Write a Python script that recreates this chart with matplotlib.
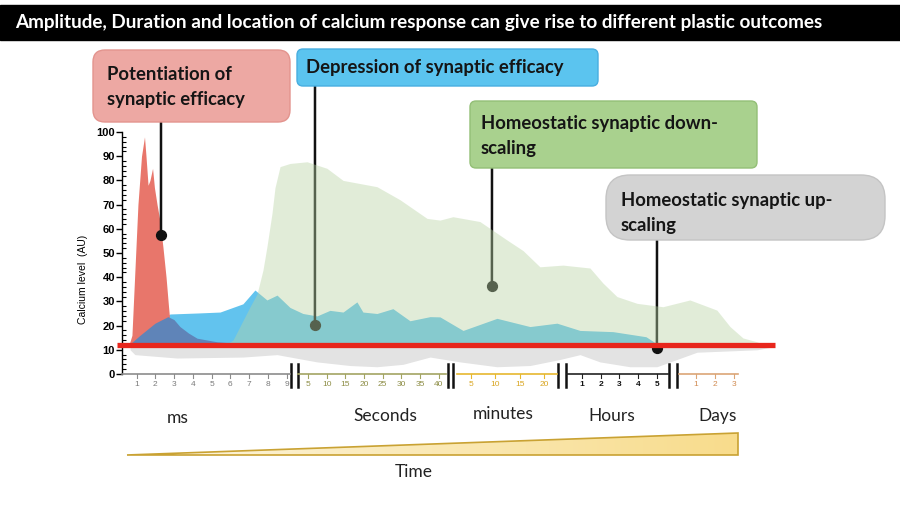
import numpy as np
import matplotlib.pyplot as plt
from matplotlib.patches import FancyBboxPatch, Rectangle, Polygon
from matplotlib.colors import LinearSegmentedColormap
from matplotlib.ticker import MultipleLocator

plt.rcParams['font.family'] = ['Lato', 'DejaVu Sans']

# ---- data (x in time-slot units along the broken axis, y = calcium level AU) ----
pot_x = [0.37, 0.53, 0.69, 0.85, 1.04, 1.20, 1.28, 1.39, 1.49, 1.63, 1.73, 1.87,
         2.03, 2.19, 2.35, 2.48, 2.61, 2.77, 2.99]
pot_y = [12, 16, 43, 70, 90, 98, 90, 78, 80, 85, 77, 70, 63, 52, 40, 28, 17, 13, 12]

fast_x = [0.37, 0.96, 1.76, 2.45, 2.77, 3.09, 3.55, 4.00, 5.07, 6.45, 7.36]
fast_y = [12, 16, 21, 23.7, 22.5, 19.6, 16.9, 14.8, 13.3, 12.5, 12]

dep_x = [0.43, 1.12, 2.03, 2.56, 4.00, 5.23, 6.45, 7.09, 7.73, 8.27, 8.96, 9.65,
         10.40, 11.09, 11.79, 12.53, 12.85, 13.60, 14.45, 15.36, 16.43, 16.96,
         18.19, 20.00, 21.76, 23.20, 24.43, 26.19, 27.95, 28.48, 28.75]
dep_y = [12, 15.4, 22, 24.8, 25.2, 25.6, 29, 34.7, 30.6, 32.6, 27.5, 25,
         24, 26.3, 25.6, 29.8, 25.6, 25, 27, 22, 23.7, 23.6,
         18, 23, 19.6, 21, 18, 17.5, 15.4, 12.7, 12]

down_x = [5.49, 5.92, 6.83, 7.20, 7.52, 7.73, 8.00, 8.16, 8.43, 8.96, 9.87, 10.93,
          11.79, 13.60, 14.83, 16.27, 16.96, 17.65, 19.09, 20.53, 21.39, 22.29,
          23.52, 24.96, 25.65, 26.40, 27.47, 28.85, 30.29, 31.73, 32.43, 33.12,
          33.87, 34.29]
down_y = [12, 14, 27.8, 33, 43, 52.6, 66.4, 77, 85.7, 87, 87.7, 85,
          80, 77.4, 72, 64.3, 63.6, 65, 63, 55.4, 51, 44.3,
          45, 43.8, 37.6, 32, 29.2, 27.8, 30.6, 26.4, 19.6, 14.9,
          13.3, 12]

band_x = [0.43, 0.69, 2.93, 6.45, 8.27, 10.40, 12.16, 13.60, 14.99, 16.43, 18.03,
          20.00, 21.76, 23.36, 24.43, 25.49, 27.09, 28.53, 30.67, 33.87, 34.56]
band_low = [10, 8, 6.6, 7, 8, 5, 3.5, 3, 4, 7, 5,
            3, 3.5, 6, 8, 5, 3, 3, 9, 10, 11]

baseline = 12

ms_ticks = [1, 2, 3, 4, 5, 6, 7, 8, 9]
sec_ticks = [5, 10, 15, 20, 25, 30, 35, 40]
min_ticks = [5, 10, 15, 20]
hour_ticks = [1, 2, 3, 4, 5]
day_ticks = [1, 2, 3]
unit_names = ['ms', 'Seconds', 'minutes', 'Hours', 'Days']

# callout points on the curves (x slot, calcium level)
callout_pts = [(2.08, 57.4), (10.29, 20.2), (19.73, 36.4), (28.53, 10.7)]

# ---- figure ----
fig = plt.figure(figsize=(9, 5.07), dpi=100)
ax = fig.add_axes([122 / 900, 133 / 507, 653 / 900, 242 / 507])
ax.set_xlim(0, 34.83)
ax.set_ylim(0, 100)

ax.fill_between(band_x, band_low, baseline + 0.5, color='#e3e3e3', lw=0, zorder=1)
ax.fill_between(dep_x, baseline, dep_y, color='#62c3ee', lw=0, zorder=2)
ax.fill_between(pot_x, baseline, pot_y, color='#e8766b', lw=0, zorder=3)
ax.fill_between(fast_x, baseline, fast_y, color='#5f84b8', lw=0, zorder=4)
ax.fill_between(down_x, baseline, down_y, color='#b8d4a4', alpha=0.42, lw=0, zorder=6)
ax.plot([-0.27, 34.83], [baseline, baseline], color='#e8261c', lw=3.8,
        solid_capstyle='butt', clip_on=False, zorder=7)

# y axis
for s in ['top', 'right', 'bottom']:
    ax.spines[s].set_visible(False)
ax.spines['left'].set_linewidth(1.0)
ax.set_yticks(range(0, 101, 10))
ax.yaxis.set_minor_locator(MultipleLocator(2))
ax.tick_params(axis='y', which='major', direction='out', length=4, width=1,
               labelsize=8, pad=1)
ax.tick_params(axis='y', which='minor', direction='in', length=3, width=0.8)
for lab in ax.get_yticklabels():
    lab.set_fontweight('bold')
    lab.set_family(['Liberation Sans', 'DejaVu Sans'])
ax.set_xticks([])
ax.set_ylabel('Calcium level  (AU)', fontsize=7.5, family=['Liberation Sans'])
ax.yaxis.set_label_coords(-0.052, 0.39)

# broken time axis: (tick labels, line start, line end, first tick, step, line colour, label colour)
segments = [
    (ms_ticks, 0.0, 8.96, 0.78, 1.0, '#8c8c8c', '#7a7a7a'),
    (sec_ticks, 9.39, 17.28, 9.92, 0.997, '#a3a463', '#8d8d45'),
    (min_ticks, 17.87, 23.2, 18.61, 1.30, '#e6b830', '#d9a520'),
    (hour_ticks, 23.73, 29.12, 24.53, 1.0, '#222222', '#111111'),
    (day_ticks, 29.71, 32.83, 30.61, 1.01, '#dba577', '#d08a50'),
]
for ticks, x0, x1, first, step, lc, tc in segments:
    ax.plot([x0, x1], [0, 0], color=lc, lw=1.2, clip_on=False, zorder=5)
    for i, t in enumerate(ticks):
        xt = first + i * step
        ax.plot([xt, xt], [0, -1.6], color=lc, lw=0.8, clip_on=False)
        ax.text(xt, -4.4, str(t), color=tc, fontsize=6, ha='center', va='center',
                family=['Liberation Sans'],
                fontweight='bold' if ticks is hour_ticks else 'normal')
for b in [9.01, 9.37, 17.37, 17.65, 23.25, 23.66, 29.17, 29.58]:
    ax.plot([b, b], [4.1, -5.4], color='#111111', lw=1.8, clip_on=False)

# overlay in pixel coordinates for title, callout boxes and time wedge
ov = fig.add_axes([0, 0, 1, 1], zorder=5)
ov.patch.set_alpha(0)
ov.axis('off')

ov.add_patch(Rectangle((0, 5), 900, 35, color='black'))
ov.text(15, 22.5, 'Amplitude, Duration and location of calcium response can give rise to '
        'different plastic outcomes', color='white', fontsize=13.6, fontweight='bold',
        va='center', ha='left')

boxes = [
    ((93, 50, 197, 72), 12, '#eda8a3', '#e3948e', 'Potentiation of\nsynaptic efficacy', (107, 87)),
    ((297, 49, 301, 37), 6, '#5bc4ef', '#48aee0', 'Depression of synaptic efficacy', (306, 68)),
    ((470, 101, 287, 67), 6, '#a9d18e', '#93bf76', 'Homeostatic synaptic down-\nscaling', (481, 136)),
    ((606, 175, 279, 65), 24, '#d3d3d3', '#c4c4c4', 'Homeostatic synaptic up-\nscaling', (621, 213)),
]
anchors = [(161, 122), (315, 86), (492, 168), (657, 240)]
for (x, y, w, h), r, fc, ec, txt, (tx, ty) in boxes:
    ov.add_patch(FancyBboxPatch((x + r, y + r), w - 2 * r, h - 2 * r,
                                boxstyle='round,pad=%d' % r, fc=fc, ec=ec, lw=1))
    ov.text(tx, ty, txt, fontsize=13.3, fontweight='bold', color='#151515',
            va='center', ha='left', linespacing=1.6)

for (px, py), (cx, cy) in zip(anchors, callout_pts):
    ann = ax.annotate('', xy=(cx, cy), xycoords='data', xytext=(px, py),
                      textcoords=ov.transData, annotation_clip=False,
                      arrowprops=dict(arrowstyle='-', color='#111111', lw=1.8,
                                      shrinkA=0, shrinkB=0), zorder=5)
    ann.arrow_patch.set_clip_on(False)
    ax.scatter([cx], [cy], s=50, color='#111111', zorder=5, clip_on=False)

label_pos = [(178, 418), (385, 416), (503, 414), (612, 416), (718, 416)]
for name, (lx, ly) in zip(unit_names, label_pos):
    ov.text(lx, ly, name, fontsize=12.5, ha='center', va='center', color='#222222')

wedge = Polygon([[127, 455], [738, 433], [738, 455]], closed=True, fc='none',
                ec='#c9a233', lw=1.2)
ov.add_patch(wedge)
cmap = LinearSegmentedColormap.from_list('wedge', ['#fdf6e0', '#f8dc8c'])
im = ov.imshow(np.linspace(0, 1, 256).reshape(1, -1), extent=[127, 738, 455, 433],
               cmap=cmap, aspect='auto', zorder=0)
im.set_clip_path(wedge)
ov.text(414, 472, 'Time', fontsize=12.5, ha='center', va='center', color='#222222')

ov.set_xlim(0, 900)
ov.set_ylim(507, 0)

fig.savefig('out.png', dpi=100)
